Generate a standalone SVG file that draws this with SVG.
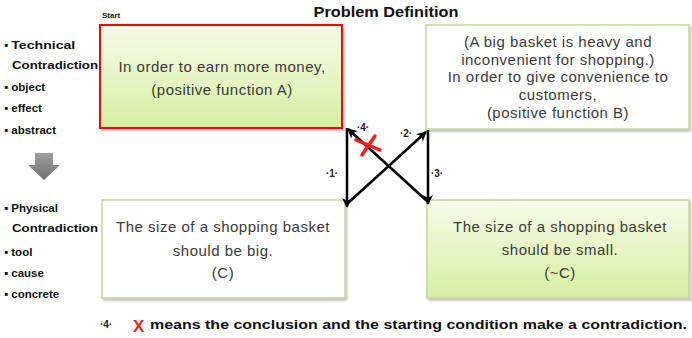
<svg xmlns="http://www.w3.org/2000/svg" width="692" height="338" viewBox="0 0 692 338">
<defs>
<linearGradient id="gg" x1="0" y1="0" x2="0" y2="1">
<stop offset="0" stop-color="#f7fbe8"/>
<stop offset="1" stop-color="#d6eea2"/>
</linearGradient>
<linearGradient id="ga" x1="0" y1="0" x2="0" y2="1">
<stop offset="0" stop-color="#a0a0a0"/>
<stop offset="1" stop-color="#707070"/>
</linearGradient>
<marker id="ah" viewBox="0 0 10 10" refX="9" refY="5" markerWidth="4" markerHeight="4" orient="auto" markerUnits="strokeWidth">
<path d="M0,0 L10,5 L0,10 L3,5 Z" fill="#000"/>
</marker>
<filter id="sh" x="-5%" y="-5%" width="110%" height="115%">
<feDropShadow dx="1.5" dy="2" stdDeviation="1" flood-color="#000" flood-opacity="0.25"/>
</filter>
</defs>
<style>
.lbl{font-family:"Liberation Sans",Arial,sans-serif;font-weight:bold;font-size:11.5px;fill:#111}
.box{font-family:"Liberation Sans",Arial,sans-serif;font-size:15px;letter-spacing:0.5px;fill:#3a3a3a;text-anchor:middle}
.num{font-family:"Liberation Sans",Arial,sans-serif;font-size:10px;font-weight:bold;fill:#222;text-anchor:middle}
.wb{fill:#fff;stroke:#c3d69b;stroke-width:1.5}
.gb{fill:url(#gg);stroke:#c3d69b;stroke-width:1.5}
.conn{stroke:#000;stroke-width:2.5;fill:none;marker-end:url(#ah)}
</style>
<rect width="692" height="338" fill="#fff"/>
<text x="386" y="17" font-family="Liberation Sans,Arial,sans-serif" font-weight="bold" font-size="14" text-anchor="middle" textLength="145" lengthAdjust="spacingAndGlyphs" fill="#111">Problem Definition</text>
<text x="102" y="18" font-family="Liberation Sans,Arial,sans-serif" font-weight="bold" font-size="8" fill="#111">Start</text>
<g id="labels-top">
<text class="lbl" x="4" y="49">▪ <tspan textLength="64" lengthAdjust="spacingAndGlyphs">Technical</tspan></text>
<text class="lbl" x="12" y="69" textLength="86" lengthAdjust="spacingAndGlyphs">Contradiction</text>
<text class="lbl" x="4" y="91">▪ object</text>
<text class="lbl" x="4" y="112">▪ effect</text>
<text class="lbl" x="4" y="134">▪ abstract</text>
</g>
<g id="down-arrow">
<path d="M35,153 H53 V165 H60 L44,180 L28,165 H35 Z" fill="url(#ga)"/>
</g>
<g id="labels-bottom">
<text class="lbl" x="4" y="212">▪ Physical</text>
<text class="lbl" x="12" y="232" textLength="86" lengthAdjust="spacingAndGlyphs">Contradiction</text>
<text class="lbl" x="4" y="256">▪ tool</text>
<text class="lbl" x="4" y="277">▪ cause</text>
<text class="lbl" x="4" y="298">▪ concrete</text>
</g>
<g id="nodeA">
<rect x="100" y="25" width="242" height="103" fill="url(#gg)" stroke="#ff0000" stroke-width="2" filter="url(#sh)"/>
<text class="box" x="222" y="72">In order to earn more money,</text>
<text class="box" x="222" y="95">(positive function A)</text>
</g>
<g id="nodeB">
<rect class="wb" x="426" y="25" width="263" height="104" filter="url(#sh)"/>
<text class="box" x="558" y="47">(A big basket is heavy and</text>
<text class="box" x="558" y="65">inconvenient  for shopping.)</text>
<text class="box" x="558" y="82">In order to give convenience to</text>
<text class="box" x="558" y="100">customers,</text>
<text class="box" x="558" y="118">(positive function B)</text>
</g>
<g id="nodeC">
<rect class="wb" x="102" y="200" width="243" height="98" filter="url(#sh)"/>
<text class="box" x="223" y="232">The size of a shopping basket</text>
<text class="box" x="223" y="256">should be big.</text>
<text class="box" x="223" y="278">(C)</text>
</g>
<g id="nodeD">
<rect class="gb" x="427" y="200" width="262" height="98" filter="url(#sh)"/>
<text class="box" x="560" y="232">The size of a shopping basket</text>
<text class="box" x="560" y="255">should be small.</text>
<text class="box" x="560" y="278">(~C)</text>
</g>
<g id="connectors">
<line class="conn" x1="347" y1="128" x2="347" y2="207"/>
<line class="conn" x1="348" y1="203" x2="426" y2="132"/>
<line class="conn" x1="428" y1="130" x2="428" y2="204"/>
<line class="conn" x1="427" y1="201" x2="348" y2="129"/>
<text class="num" x="332" y="177">·1·</text>
<text class="num" x="406" y="137">·2·</text>
<text class="num" x="437" y="177">·3·</text>
<text class="num" x="363" y="131">·4·</text>
<g stroke="#ff1a1a" stroke-width="3.5" stroke-linecap="round">
<line x1="356" y1="140" x2="380" y2="150"/>
<line x1="375" y1="136" x2="362" y2="155"/>
</g>
</g>
<g id="legend">
<text class="num" x="106" y="328">·4·</text>
<text x="133" y="332" font-family="Liberation Sans,Arial,sans-serif" font-weight="bold" font-size="17" fill="#ff1a1a">X</text>
<text x="150" y="329" font-family="Liberation Sans,Arial,sans-serif" font-weight="bold" font-size="12" fill="#111" textLength="537" lengthAdjust="spacingAndGlyphs">means the conclusion and the starting condition make a contradiction.</text>
</g>
</svg>
